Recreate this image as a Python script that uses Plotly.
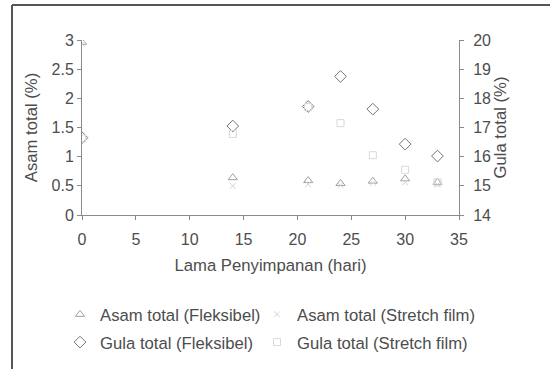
import plotly.graph_objects as go

# Storage time (days)
hari = [0, 14, 21, 24, 27, 30, 33]

# Total acid (%) - left axis
asam_fleksibel = [2.96, 0.64, 0.59, 0.54, 0.58, 0.62, 0.56]
asam_stretch = [2.93, 0.50, 0.53, 0.51, 0.55, 0.56, 0.52]

# Total sugar (%) - right axis
gula_fleksibel = [16.65, 17.05, 17.72, 18.75, 17.63, 16.43, 16.02]
gula_stretch = [16.62, 16.78, 17.70, 17.15, 16.05, 15.55, 15.12]

x_ticks = [0, 5, 10, 15, 20, 25, 30, 35]
y1_ticks = [0, 0.5, 1, 1.5, 2, 2.5, 3]
y1_labels = ["0", "0.5", "1", "1.5", "2", "2.5", "3"]
y2_ticks = [14, 15, 16, 17, 18, 19, 20]

W, H = 550, 369
L, R, T, B = 82, 91, 40, 154
PW, PH = W - L - R, H - T - B

FONT = "Liberation Sans, Arial, sans-serif"
TXT = "#4d4d4d"
AX = "#8a8a8a"
FS = 16
FS_T = 16.7


def px_x(p):
    return (p - L) / PW


def px_y(p):
    return (H - B - p) / PH


fig = go.Figure()
fig.add_trace(go.Scatter(
    x=hari, y=asam_fleksibel, mode="markers", name="Asam total (Fleksibel)",
    legend="legend", legendgroup="a",
    marker=dict(symbol="triangle-up-open", size=8, color="#a0a0a0", line=dict(width=1)),
))
fig.add_trace(go.Scatter(
    x=hari, y=gula_fleksibel, mode="markers", name="Gula total (Fleksibel)", yaxis="y2",
    legend="legend", legendgroup="b",
    marker=dict(symbol="diamond-open", size=9, color="#747474", line=dict(width=1)),
))
fig.add_trace(go.Scatter(
    x=hari, y=asam_stretch, mode="markers", name="Asam total (Stretch film)",
    legend="legend2", legendgroup="c",
    marker=dict(symbol="x-thin-open", size=6, color="#d4d4d4", line=dict(width=1)),
))
fig.add_trace(go.Scatter(
    x=hari, y=gula_stretch, mode="markers", name="Gula total (Stretch film)", yaxis="y2",
    legend="legend2", legendgroup="d",
    marker=dict(symbol="square-open", size=7, color="#d8d8d8", line=dict(width=1)),
))

axis_common = dict(
    showgrid=False, zeroline=False, showline=True, linecolor=AX, linewidth=1,
    ticks="outside", ticklen=4, tickcolor=AX,
    tickfont=dict(family=FONT, size=FS, color=TXT),
)

legend_common = dict(
    orientation="v", xanchor="left", yanchor="top", tracegroupgap=3,
    font=dict(family=FONT, size=FS_T, color=TXT), bgcolor="rgba(0,0,0,0)",
)

title_font = dict(family=FONT, size=FS_T, color=TXT)

fig.update_layout(
    width=W, height=H,
    margin=dict(l=L, r=R, t=T, b=B, autoexpand=False),
    paper_bgcolor="white", plot_bgcolor="white",
    font=dict(family=FONT, size=FS, color=TXT),
    xaxis=dict(range=[0, 35], tickvals=x_ticks, ticklabelstandoff=6,
               title=dict(text="Lama Penyimpanan (hari)", font=title_font, standoff=12),
               **axis_common),
    yaxis=dict(range=[0, 3], tickvals=y1_ticks, ticktext=y1_labels,
               title=dict(text="Asam total (%)", font=title_font, standoff=9), **axis_common),
    yaxis2=dict(range=[14, 20], tickvals=y2_ticks, overlaying="y", side="right",
                ticklabelstandoff=6,
                title=dict(text="Gula total (%)", font=title_font, standoff=3), **axis_common),
    showlegend=True,
    legend=dict(x=px_x(60), y=px_y(297), **legend_common),
    legend2=dict(x=px_x(257), y=px_y(297), **legend_common),
    shapes=[
        dict(type="line", xref="paper", yref="paper", x0=px_x(12), x1=px_x(12),
             y0=px_y(5), y1=px_y(372), layer="above", line=dict(color="#555555", width=2)),
        dict(type="line", xref="paper", yref="paper", x0=px_x(12), x1=px_x(552),
             y0=px_y(5), y1=px_y(5), layer="above", line=dict(color="#555555", width=2)),
    ],
)

fig.write_html("out.html")
